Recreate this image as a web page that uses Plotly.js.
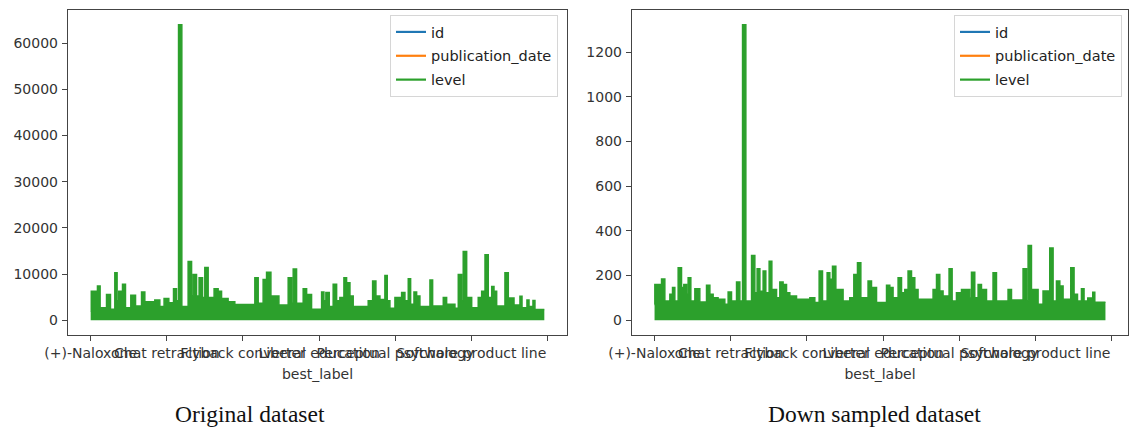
<!DOCTYPE html>
<html>
<head>
<meta charset="utf-8">
<script src="https://cdn.plot.ly/plotly-3.0.1.min.js"></script>
<style>
  html, body { margin: 0; padding: 0; background: #fff; }
  #chart { width: 1131px; height: 432px; }
</style>
</head>
<body>
<div id="chart"></div>
<script>
// ---- data ----
const categoryLabels = ["(+)-Naloxone", "Chat retraction", "Flyback converter", "Liberal education", "Perceptual psychology", "Software product line", ""];
const tickRows = [0, 1000, 2000, 3000, 4000, 5000, 6000];
const seriesNames = ["id", "publication_date", "level"];

// Original dataset: row index where the envelope of "level" changes, and its value
const origRows = [0,8,89,124,208,260,317,347,369,418,457,527,589,668,711,842,908,964,1026,1088,1127,1154,1197,1280,1325,1346,1390,1424,1469,1499,1543,1621,1674,1719,1805,1893,2156,2200,2265,2310,2367,2472,2594,2639,2660,2704,2791,2836,2901,3033,3063,3089,3133,3185,3230,3273,3326,3361,3405,3448,3645,3703,3746,3799,3864,3895,3930,3996,4084,4127,4171,4202,4246,4281,4324,4456,4491,4631,4675,4784,4828,4872,4893,4938,5004,5090,5135,5179,5222,5267,5297,5332,5441,5485,5560,5638,5665,5730,5757,5809,5835,5958];
const origLevel = [2000,6300,7400,2700,5600,2400,10300,4200,6300,7800,2700,5400,3100,6100,4000,4400,3000,4700,3800,6800,4200,64000,3000,12700,5250,9900,5250,9200,4900,11400,4900,6800,6300,4700,4000,3400,9200,3700,8800,10400,5250,3300,9200,3700,11100,3700,6800,5600,2400,6100,4200,6000,3000,7800,4200,4900,9200,8100,5250,3000,4200,8500,5250,4500,9700,4200,2600,4900,6000,4200,9000,3450,6100,5250,3000,8700,3100,4900,3450,2600,9900,4200,14900,4900,2700,4900,6300,14200,4900,7300,6300,3100,10300,4800,3300,5200,2700,4400,3000,4300,2300,2300];

// Down sampled dataset
const downRows = [0,4,92,135,201,236,266,310,354,384,420,441,476,529,594,682,726,769,834,922,966,1010,1076,1119,1155,1198,1273,1316,1346,1382,1425,1460,1504,1539,1601,1644,1687,1732,1775,1863,2038,2103,2160,2204,2265,2300,2335,2379,2474,2562,2615,2663,2707,2802,2847,2913,3044,3087,3130,3196,3241,3284,3327,3372,3415,3458,3655,3700,3743,3786,3865,3905,3962,4028,4137,4159,4202,4246,4290,4356,4442,4487,4639,4684,4836,4881,4902,4946,5033,5098,5186,5230,5274,5318,5361,5462,5505,5550,5602,5636,5685,5750,5777,5917];
const downLevel = [70,160,185,86,116,146,86,235,146,160,116,190,86,141,82,156,116,101,94,71,126,86,171,86,1322,86,290,123,230,130,220,123,264,138,101,171,160,123,108,94,101,79,220,86,212,183,242,138,86,101,205,257,101,175,146,79,156,146,101,190,123,138,220,190,138,94,138,205,131,108,230,86,123,138,100,215,101,160,138,86,212,86,138,90,230,86,334,138,71,131,323,86,175,153,94,235,116,86,141,86,100,125,80,80];

// id and publication_date are not visible in the picture (hidden under "level")
const idValues = [null];
const pubDateValues = [null];

const colors = {id: "#1f77b4", publication_date: "#ff7f0e", level: "#2ca02c"};
const FONT = "DejaVu Sans";
const W = 1131, H = 432;

const traces = [];
function addPanel(xa, ya, legendId, rows, level) {
  // the filled data trace (drawn first, not in legend)
  traces.push({type: "scatter", mode: "lines", name: seriesNames[2], x: rows, y: level,
    line: {color: colors.level, width: 1.5, shape: "hv"}, fill: "tozeroy", fillcolor: colors.level,
    xaxis: xa, yaxis: ya, legend: legendId, showlegend: false, hoverinfo: "skip"});
  // legend entries drawn as plain lines
  traces.push({type: "scatter", mode: "lines", name: seriesNames[0], x: [null], y: idValues,
    line: {color: colors.id, width: 2.2}, xaxis: xa, yaxis: ya, legend: legendId,
    legendgroup: legendId + "a", hoverinfo: "skip"});
  traces.push({type: "scatter", mode: "lines", name: seriesNames[1], x: [null], y: pubDateValues,
    line: {color: colors.publication_date, width: 2.2}, xaxis: xa, yaxis: ya, legend: legendId,
    legendgroup: legendId + "b", hoverinfo: "skip"});
  traces.push({type: "scatter", mode: "lines", name: seriesNames[2], x: [null], y: [null],
    line: {color: colors.level, width: 2.2}, xaxis: xa, yaxis: ya, legend: legendId,
    legendgroup: legendId + "c", hoverinfo: "skip"});
}
addPanel("x", "y", "legend", origRows, origLevel);
addPanel("x2", "y2", "legend2", downRows, downLevel);

function xAxis(domain, rows, anchor) {
  const last = rows[rows.length - 1];
  return {
    domain: domain, anchor: anchor, range: [-0.05 * last, 1.05 * last],
    tickmode: "array", tickvals: tickRows, ticktext: categoryLabels, tickangle: 0,
    ticks: "outside", ticklen: 5, tickwidth: 1, tickcolor: "#444",
    showline: true, mirror: true, linecolor: "#444", linewidth: 1.2,
    showgrid: false, zeroline: false,
    tickfont: {family: FONT, size: 14, color: "#333"},
    title: {text: "best_label", font: {family: FONT, size: 14, color: "#333"}, standoff: 9}
  };
}
function yAxis(domain, level, dtick, anchor) {
  const mx = Math.max(...level);
  return {
    domain: domain, anchor: anchor, range: [-0.05 * mx, 1.05 * mx],
    tick0: 0, dtick: dtick, tickformat: "d",
    ticks: "outside", ticklen: 5, tickwidth: 1, tickcolor: "#444", ticklabelstandoff: 1,
    showline: true, mirror: true, linecolor: "#444", linewidth: 1.2,
    showgrid: false, zeroline: false,
    tickfont: {family: FONT, size: 14, color: "#333"}
  };
}
const yDom = [1 - 335 / H, 1 - 10 / H];
function legendBox(xRight) {
  return {
    x: xRight / W, xanchor: "right", y: 1 - 15 / H, yanchor: "top",
    bgcolor: "rgba(255,255,255,0.85)", bordercolor: "#d6d6d6", borderwidth: 1,
    font: {family: FONT, size: 14.5, color: "#222"}, tracegroupgap: 2, traceorder: "grouped"
  };
}

const layout = {
  width: W, height: H,
  margin: {l: 0, r: 0, t: 0, b: 0, autoexpand: false},
  paper_bgcolor: "#fff", plot_bgcolor: "#fff",
  font: {family: FONT},
  showlegend: true,
  xaxis: xAxis([68 / W, 567 / W], origRows, "y"),
  yaxis: yAxis(yDom, origLevel, 10000, "x"),
  xaxis2: xAxis([632 / W, 1128 / W], downRows, "y2"),
  yaxis2: yAxis(yDom, downLevel, 200, "x2"),
  legend: legendBox(558),
  legend2: legendBox(1122),
  annotations: [
    {text: "Original dataset", xref: "paper", yref: "paper", x: 250 / W, y: 1 - 414 / H,
     xanchor: "center", yanchor: "middle", showarrow: false,
     font: {family: "Liberation Serif", size: 23.5, color: "#111"}},
    {text: "Down sampled dataset", xref: "paper", yref: "paper", x: 874 / W, y: 1 - 414 / H,
     xanchor: "center", yanchor: "middle", showarrow: false,
     font: {family: "Liberation Serif", size: 23.5, color: "#111"}}
  ]
};

Plotly.newPlot("chart", traces, layout, {staticPlot: true, displayModeBar: false});
</script>
</body>
</html>
